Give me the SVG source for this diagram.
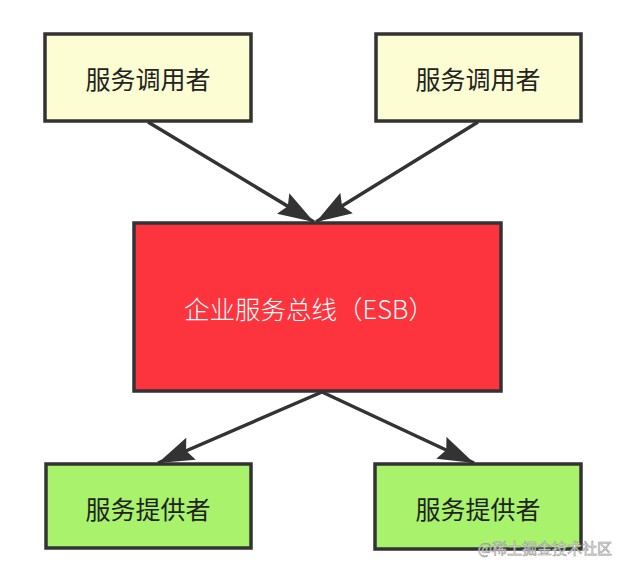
<svg xmlns="http://www.w3.org/2000/svg" width="628" height="572" viewBox="0 0 628 572">
<defs>
<style>
.box{stroke:#333;stroke-width:3.5}
.caller{fill:#fcfdd2}
.provider{fill:#a8f26c}
.esb{fill:#fd333d}
.lbl{font-family:"Noto Sans CJK SC","Liberation Sans",sans-serif;font-size:25px;fill:#222;text-anchor:middle;dominant-baseline:central}
.conn{stroke:#333;stroke-width:3.5;fill:none}
</style>
<marker id="a2" viewBox="0 0 10 10" refX="10" refY="5" markerWidth="36" markerHeight="24" markerUnits="userSpaceOnUse" orient="auto" preserveAspectRatio="none">
<path d="M0,0 L10,5 L0,10 L1.5,5 Z" fill="#333"/>
</marker>
</defs>
<rect width="628" height="572" fill="#fff"/>
<g id="connectors">
<line class="conn" x1="148" y1="122" x2="314" y2="222" marker-end="url(#a2)"/>
<line class="conn" x1="478" y1="122" x2="316" y2="222" marker-end="url(#a2)"/>
<line class="conn" x1="322" y1="392" x2="158" y2="463" marker-end="url(#a2)"/>
<line class="conn" x1="322" y1="392" x2="474" y2="463" marker-end="url(#a2)"/>
</g>
<g id="caller1">
<rect class="box caller" x="45" y="34" width="206" height="87"/>
<text class="lbl" x="148" y="78">服务调用者</text>
</g>
<g id="caller2">
<rect class="box caller" x="376" y="34" width="205" height="87"/>
<text class="lbl" x="478" y="78">服务调用者</text>
</g>
<g id="esb">
<rect class="box esb" x="134" y="223" width="367" height="168"/>
<text class="lbl" x="309" y="307" style="fill:#fff;font-size:25.5px;font-weight:300">企业服务总线（ESB）</text>
</g>
<g id="provider1">
<rect class="box provider" x="46" y="464" width="205" height="84"/>
<text class="lbl" x="148" y="508">服务提供者</text>
</g>
<g id="provider2">
<rect class="box provider" x="375" y="464" width="206" height="85"/>
<text class="lbl" x="478" y="508">服务提供者</text>
</g>
<text x="612" y="554" style="font-family:'Noto Sans CJK SC',sans-serif;font-size:15px;fill:#fff;fill-opacity:0.85;stroke:#999;stroke-width:0.6;text-anchor:end">@稀土掘金技术社区</text>
</svg>
